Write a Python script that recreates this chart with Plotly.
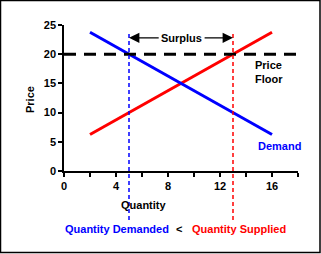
import plotly.graph_objects as go

quantity = [2, 4, 6, 8, 10, 12, 14, 16]
supply = [6.25, 8.75, 11.25, 13.75, 16.25, 18.75, 21.25, 23.75]
demand = [23.75, 21.25, 18.75, 16.25, 13.75, 11.25, 8.75, 6.25]
price_floor = 20
qty_demanded = 5
qty_supplied = 13
x_tickvals = [0, 2, 4, 6, 8, 10, 12, 14, 16, 18]
x_ticktext = ["0", "", "4", "", "8", "", "12", "", "16", ""]
y_tickvals = [0, 5, 10, 15, 20, 25]

W, H = 321, 254
ml, mr, mt, mb = 64, 23, 25, 83
pw, ph = W - ml - mr, H - mt - mb

FONT = "Liberation Sans, Arial, sans-serif"
bold = dict(family=FONT, size=11, color="black", weight="bold")

fig = go.Figure()
fig.add_trace(go.Scatter(x=quantity, y=supply, mode="lines",
                         line=dict(color="#ff0000", width=3), showlegend=False))
fig.add_trace(go.Scatter(x=quantity, y=demand, mode="lines",
                         line=dict(color="#0000ff", width=3), showlegend=False))

shapes = []
# price floor
shapes.append(dict(type="line", xref="x", yref="y", x0=0, x1=18, y0=price_floor, y1=price_floor,
                   line=dict(color="black", width=3, dash="12px,8px"), layer="above"))
# vertical dashed lines
for q, c in [(qty_demanded, "#0000ff"), (qty_supplied, "#ff0000")]:
    shapes.append(dict(type="line", xref="x", yref="paper", x0=q, x1=q,
                       y0=-49 / ph, y1=(ph - 8) / ph,
                       line=dict(color=c, width=1.5, dash="4px,3px"), layer="above"))
# outer frame
shapes.append(dict(type="rect", xref="paper", yref="paper",
                   x0=-ml / pw + 0.5 / pw, x1=1 + (mr - 1) / pw,
                   y0=-(mb - 1.5) / ph, y1=1 + (mt - 0.5) / ph,
                   line=dict(color="black", width=1.5), fillcolor="rgba(0,0,0,0)"))

def pap(px, py):
    return (px - ml) / pw, 1 - (py - mt) / ph

ann = []
arrow_y = 22.8
ann.append(dict(x=qty_demanded, y=arrow_y, ax=7.4, ay=arrow_y, xref="x", yref="y",
                axref="x", ayref="y", showarrow=True, arrowhead=2, arrowsize=1.6,
                arrowwidth=1.3, arrowcolor="black", text=""))
ann.append(dict(x=qty_supplied, y=arrow_y, ax=10.7, ay=arrow_y, xref="x", yref="y",
                axref="x", ayref="y", showarrow=True, arrowhead=2, arrowsize=1.6,
                arrowwidth=1.3, arrowcolor="black", text=""))
ann.append(dict(x=9.05, y=arrow_y, xref="x", yref="y", text="Surplus", showarrow=False,
                xanchor="center", yanchor="middle", font=bold))
ann.append(dict(x=16.4, y=26.8, xref="x", yref="y", text="Supply", showarrow=False,
                xanchor="center", yanchor="middle", font=dict(bold, color="#ff0000")))
ann.append(dict(x=14.5, y=16.9, xref="x", yref="y", text="Price<br>Floor", showarrow=False,
                align="left", xanchor="left", yanchor="middle", font=bold))
ann.append(dict(x=16.6, y=4.3, xref="x", yref="y", text="Demand", showarrow=False,
                xanchor="center", yanchor="middle", font=dict(bold, color="#0000ff")))
x, y = pap(143, 205)
ann.append(dict(x=x, y=y, xref="paper", yref="paper", text="Quantity", showarrow=False,
                xanchor="center", yanchor="middle", font=bold))
x, y = pap(30, 100)
ann.append(dict(x=x, y=y, xref="paper", yref="paper", text="Price", showarrow=False,
                xanchor="center", yanchor="middle", textangle=-90, font=bold))
x, y = pap(63, 229)
ann.append(dict(x=x, y=y, xref="paper", yref="paper", xanchor="left", yanchor="middle",
                text="Quantity Demanded", showarrow=False, font=dict(bold, color="#0000ff")))
x, y = pap(179, 229)
ann.append(dict(x=x, y=y, xref="paper", yref="paper", xanchor="center", yanchor="middle",
                text="<", showarrow=False, font=bold))
x, y = pap(190, 229)
ann.append(dict(x=x, y=y, xref="paper", yref="paper", xanchor="left", yanchor="middle",
                text="Quantity Supplied", showarrow=False, font=dict(bold, color="#ff0000")))

fig.update_layout(
    width=W, height=H, margin=dict(l=ml, r=mr, t=mt, b=mb, pad=0),
    paper_bgcolor="white", plot_bgcolor="white",
    shapes=shapes, annotations=ann, showlegend=False,
    xaxis=dict(range=[0, 18], tickvals=x_tickvals, ticktext=x_ticktext,
               showgrid=False, zeroline=False, showline=True, linecolor="black",
               linewidth=1.5, ticks="outside", ticklen=4, tickcolor="black", tickwidth=1.5,
               tickfont=bold, fixedrange=True),
    yaxis=dict(range=[0, 25], tickvals=y_tickvals, showgrid=False, zeroline=False,
               showline=True, linecolor="black", linewidth=1.5, ticks="outside",
               ticklen=4, tickcolor="black", tickwidth=1.5, tickfont=bold, fixedrange=True),
)

fig.write_html("out.html", config={"displayModeBar": False})
